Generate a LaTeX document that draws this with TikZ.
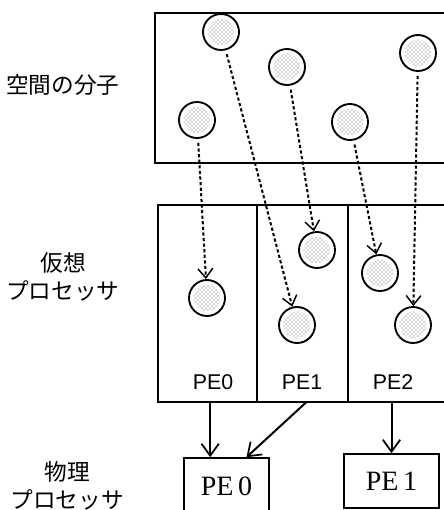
\documentclass[tikz,border=0pt]{standalone}
\usepackage{fontspec}
\setmainfont{Liberation Serif}
\setsansfont{Liberation Sans}
\newfontfamily\jpfont{Noto Sans CJK JP}
\usetikzlibrary{arrows.meta, patterns}
\tikzset{
  frame/.style={draw, line width=1.2pt},
  cell/.style={draw, line width=1.2pt, inner sep=0pt, outer sep=0pt,
    minimum width=#1, minimum height=147.75pt},
  mol/.style={circle, draw, line width=1.4pt, minimum size=27pt, inner sep=0pt,
    path picture={\fill[pattern=crosshatch dots, pattern color=black!70]
      (path picture bounding box.center) circle (10pt);}},
  mv/.style={-{Straight Barb[length=7pt, width=11pt, line width=1.1pt]},
    line width=1.5pt, dash pattern=on 2.4pt off 1.8pt, shorten <=3pt},
  arr/.style={-{Straight Barb[length=9pt, width=13pt, line width=1.3pt]}, line width=1.5pt},
  lbl/.style={font=\jpfont\fontsize{17}{21}\selectfont, align=center},
  pe/.style={font=\sffamily\fontsize{16}{18}\selectfont},
  phys/.style={draw, line width=1.2pt, inner sep=0pt,
    font=\fontsize{21}{24}\selectfont}
}
\begin{document}
\begin{tikzpicture}[x=0.75pt, y={(0pt,-0.75pt)}]
  \useasboundingbox (0,0) rectangle (443,510);

  % molecules in space
  \draw[frame] (155,13) rectangle (455,163);
  \node[mol] (c1) at (221,32) {};
  \node[mol] (c2) at (287,67) {};
  \node[mol] (c3) at (418,53) {};
  \node[mol] (c4) at (197,120) {};
  \node[mol] (c5) at (350,122) {};
  \node[lbl] (space) at (63,85) {空間の分子};

  % virtual processors
  \node[cell=74.25pt] (vp0) at (207.5,303.5) {};
  \node[cell=68.25pt] (vp1) at (302.5,303.5) {};
  \node[cell=80.25pt] (vp2) at (401.5,303.5) {};
  \node[pe] at (213,382) {PE0};
  \node[pe] at (302,382) {PE1};
  \node[pe] at (393,382) {PE2};
  \node[lbl] (virt) at (63,277) {仮想\\プロセッサ};

  \node[mol] (d1) at (207,298) {};
  \node[mol] (d2) at (297,325) {};
  \node[mol] (d3) at (317,250) {};
  \node[mol] (d4) at (380,273) {};
  \node[mol] (d5) at (413,325) {};
  \draw[mv] (c4) -- (d1);
  \draw[mv] (c1) -- (d2);
  \draw[mv] (c2) -- (d3);
  \draw[mv] (c5) -- (d4);
  \draw[mv] (c3) -- (d5);

  % physical processors
  \node[phys, minimum width=63.75pt, minimum height=42.75pt] (pp0) at (226.5,486.5) {PE\,0};
  \node[phys, minimum width=71.25pt, minimum height=40.5pt] (pp1) at (391.5,481) {PE\,1};
  \node[lbl] (phys) at (67,486) {物理\\プロセッサ};
  \draw[arr] ([xshift=2pt]vp0.south) -- ([xshift=2pt]vp0.south |- pp0.north);
  \draw[arr] ([xshift=3pt]vp1.south) -- ([xshift=15pt]pp0.north);
  \draw[arr] (pp1.north |- vp2.south) -- (pp1.north);
\end{tikzpicture}
\end{document}
